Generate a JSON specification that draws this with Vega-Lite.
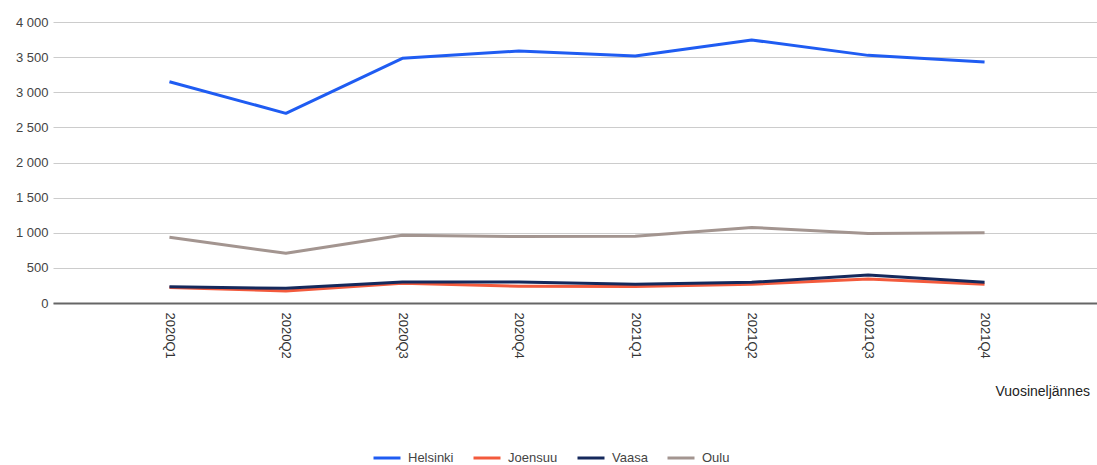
{
  "$schema": "https://vega.github.io/schema/vega-lite/v6.json",
  "autosize": "none",
  "padding": {"left": 53, "top": 22, "right": 0, "bottom": 162},
  "width": 1048,
  "height": 281,
  "background": "white",
  "config": {
    "font": "Liberation Sans",
    "view": {"stroke": null}
  },
  "data": {
    "values": [
      {"q": "2020Q1", "city": "Helsinki", "v": 3150},
      {"q": "2020Q2", "city": "Helsinki", "v": 2700},
      {"q": "2020Q3", "city": "Helsinki", "v": 3483},
      {"q": "2020Q4", "city": "Helsinki", "v": 3587},
      {"q": "2021Q1", "city": "Helsinki", "v": 3516},
      {"q": "2021Q2", "city": "Helsinki", "v": 3744},
      {"q": "2021Q3", "city": "Helsinki", "v": 3525},
      {"q": "2021Q4", "city": "Helsinki", "v": 3430},
      {"q": "2020Q1", "city": "Joensuu", "v": 222},
      {"q": "2020Q2", "city": "Joensuu", "v": 170},
      {"q": "2020Q3", "city": "Joensuu", "v": 280},
      {"q": "2020Q4", "city": "Joensuu", "v": 240},
      {"q": "2021Q1", "city": "Joensuu", "v": 235},
      {"q": "2021Q2", "city": "Joensuu", "v": 268},
      {"q": "2021Q3", "city": "Joensuu", "v": 340},
      {"q": "2021Q4", "city": "Joensuu", "v": 268},
      {"q": "2020Q1", "city": "Vaasa", "v": 232},
      {"q": "2020Q2", "city": "Vaasa", "v": 209},
      {"q": "2020Q3", "city": "Vaasa", "v": 300},
      {"q": "2020Q4", "city": "Vaasa", "v": 300},
      {"q": "2021Q1", "city": "Vaasa", "v": 268},
      {"q": "2021Q2", "city": "Vaasa", "v": 295},
      {"q": "2021Q3", "city": "Vaasa", "v": 398},
      {"q": "2021Q4", "city": "Vaasa", "v": 295},
      {"q": "2020Q1", "city": "Oulu", "v": 935},
      {"q": "2020Q2", "city": "Oulu", "v": 708},
      {"q": "2020Q3", "city": "Oulu", "v": 965},
      {"q": "2020Q4", "city": "Oulu", "v": 945},
      {"q": "2021Q1", "city": "Oulu", "v": 950},
      {"q": "2021Q2", "city": "Oulu", "v": 1075},
      {"q": "2021Q3", "city": "Oulu", "v": 990},
      {"q": "2021Q4", "city": "Oulu", "v": 1000}
    ]
  },
  "mark": {"type": "line", "strokeWidth": 3, "strokeJoin": "round"},
  "encoding": {
    "x": {
      "field": "q",
      "type": "ordinal",
      "scale": {"type": "point", "padding": 1},
      "axis": {
        "title": "Vuosineljännes",
        "titleX": 942,
        "titleY": 88,
        "titleAlign": "left",
        "titleBaseline": "middle",
        "titleFontWeight": "normal",
        "titleFontSize": 14,
        "titleColor": "#222222",
        "labelAngle": 90,
        "labelAlign": "left",
        "labelBaseline": "middle",
        "labelPadding": 9,
        "labelFontSize": 13,
        "labelColor": "#333333",
        "ticks": false,
        "grid": false,
        "domainColor": "#666666",
        "domainWidth": 2
      }
    },
    "y": {
      "field": "v",
      "type": "quantitative",
      "scale": {"domain": [0, 4000], "nice": false},
      "axis": {
        "title": null,
        "values": [0, 500, 1000, 1500, 2000, 2500, 3000, 3500, 4000],
        "labelExpr": "replace(format(datum.value, ','), ',', ' ')",
        "labelFontSize": 13,
        "labelColor": "#444444",
        "labelPadding": 5,
        "ticks": false,
        "domain": false,
        "gridColor": "#cccccc",
        "gridWidth": 1
      }
    },
    "color": {
      "field": "city",
      "type": "nominal",
      "scale": {
        "domain": ["Helsinki", "Joensuu", "Vaasa", "Oulu"],
        "range": ["#1f5cf2", "#f35a3c", "#15295c", "#a39590"]
      },
      "legend": {
        "title": null,
        "orient": "none",
        "direction": "horizontal",
        "legendX": 319,
        "legendY": 421,
        "symbolType": "stroke",
        "symbolStrokeWidth": 3,
        "symbolSize": 729,
        "labelFontSize": 13,
        "labelColor": "#444444",
        "labelOffset": 6,
        "columnPadding": 13
      }
    }
  }
}
